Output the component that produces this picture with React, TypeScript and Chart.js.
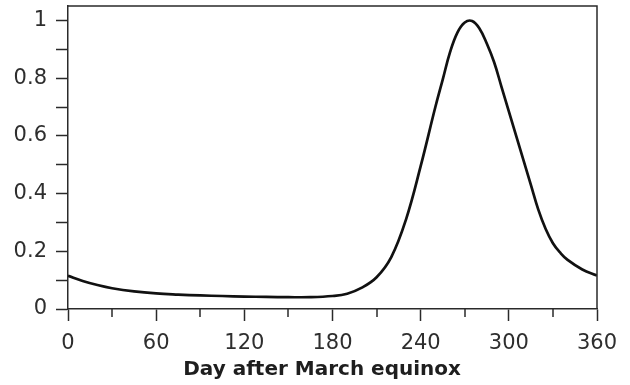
import React, { useEffect, useRef } from "react";
import { Chart, registerables } from "chart.js";

Chart.register(...registerables);

const days = [0, 10, 20, 30, 45, 60, 75, 90, 105, 120, 135, 150, 165, 180, 190, 200, 210, 220, 230, 240, 250, 255, 260, 265, 270, 275, 280, 285, 290, 295, 300, 305, 310, 315, 320, 325, 330, 335, 340, 350, 360];
const values = [0.115, 0.097, 0.083, 0.072, 0.061, 0.054, 0.05, 0.047, 0.045, 0.043, 0.042, 0.041, 0.041, 0.045, 0.053, 0.074, 0.11, 0.18, 0.31, 0.495, 0.7, 0.795, 0.89, 0.958, 0.993, 0.998, 0.972, 0.92, 0.855, 0.77, 0.685, 0.6, 0.515, 0.43, 0.345, 0.278, 0.228, 0.195, 0.17, 0.137, 0.116];
const xTickStep = 30;
const xLabelStep = 60;
const minorXTicks = [30, 90, 150, 210, 270, 330];
const xTitle = "Day after March equinox";

const FONT = "'DejaVu Sans', Verdana, sans-serif";
const AXIS_COLOR = "#2a2a2a";
const TEXT_COLOR = "#2e2e2e";

const framePlugin = {
  id: "frame",
  afterDraw(chart: any) {
    const { ctx, chartArea } = chart;
    const xs = chart.scales.x;
    ctx.save();
    ctx.strokeStyle = AXIS_COLOR;
    ctx.lineWidth = 1.5;
    ctx.beginPath();
    ctx.moveTo(chartArea.left, chartArea.top);
    ctx.lineTo(chartArea.right, chartArea.top);
    ctx.lineTo(chartArea.right, chartArea.bottom);
    ctx.stroke();
    ctx.beginPath();
    for (const v of minorXTicks) {
      const px = Math.round(xs.getPixelForValue(v));
      ctx.moveTo(px, chartArea.bottom);
      ctx.lineTo(px, chartArea.bottom + 8);
    }
    ctx.stroke();
    ctx.restore();
  },
};

export default function App() {
  const ref = useRef<HTMLCanvasElement | null>(null);
  useEffect(() => {
    if (!ref.current) return;
    const chart = new Chart(ref.current, {
      type: "line",
      data: {
        datasets: [
          {
            data: days.map((d, i) => ({ x: d, y: values[i] })),
            borderColor: "#111111",
            borderWidth: 2.7,
            pointRadius: 0,
            fill: false,
            tension: 0.4,
          },
        ],
      },
      options: {
        animation: false,
        responsive: false,
        events: [],
        layout: { padding: { top: 6, right: 33, left: 0, bottom: 0 } },
        plugins: { legend: { display: false }, tooltip: { enabled: false } },
        scales: {
          x: {
            type: "linear",
            min: 0,
            max: 360,
            afterFit: (s: any) => {
              s.height = 76;
              s.paddingLeft = 0;
              s.paddingRight = 0;
            },
            border: { color: AXIS_COLOR, width: 1.5 },
            grid: {
              drawOnChartArea: false,
              tickLength: 12,
              tickWidth: 1.5,
              tickColor: (c: any) => (c.tick && c.tick.value % xLabelStep === 0 ? AXIS_COLOR : "rgba(0,0,0,0)"),
            },
            ticks: {
              stepSize: xTickStep,
              autoSkip: false,
              maxRotation: 0,
              padding: 10,
              color: TEXT_COLOR,
              font: { family: FONT, size: 21 },
              callback: (v: any) => (Number(v) % xLabelStep === 0 ? String(v) : ""),
            },
            title: {
              display: true,
              text: xTitle + "\u00a0\u00a0\u00a0",
              color: "#1e1e1e",
              font: { family: FONT, size: 20, weight: "bold" },
              padding: { top: 0, bottom: 3 },
            },
          },
          y: {
            min: 0,
            max: 1.05,
            afterFit: (s: any) => {
              s.width = 68;
              s.paddingTop = 0;
              s.paddingBottom = 0;
            },
            border: { color: AXIS_COLOR, width: 1.5 },
            grid: {
              drawOnChartArea: false,
              tickLength: 12,
              tickWidth: 1.5,
              tickColor: AXIS_COLOR,
            },
            ticks: {
              stepSize: 0.1,
              includeBounds: false,
              autoSkip: false,
              padding: 9,
              color: TEXT_COLOR,
              font: { family: FONT, size: 21 },
              callback: (v: any) => {
                const k = Math.round(Number(v) * 10);
                if (k % 2 !== 0) return "";
                return k === 0 ? "0" : k === 10 ? "1" : (k / 10).toFixed(1);
              },
            },
          },
        },
      } as any,
      plugins: [framePlugin],
    });
    return () => chart.destroy();
  }, []);
  return (
    <div style={{ position: "fixed", left: 0, top: 0, width: 630, height: 385, background: "#fff" }}>
      <canvas ref={ref} width={630} height={385} style={{ display: "block" }} />
    </div>
  );
}
